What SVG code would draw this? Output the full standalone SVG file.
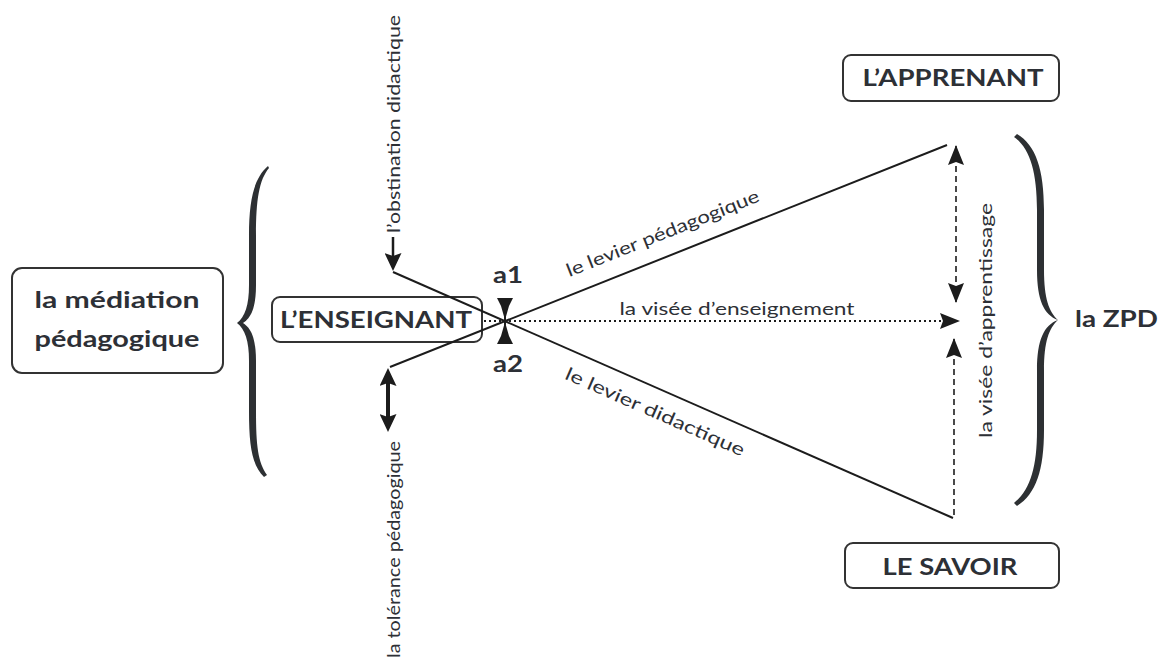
<svg xmlns="http://www.w3.org/2000/svg" width="1161" height="662" viewBox="0 0 1161 662">
<defs>
<style>
.box{fill:#fff;stroke:#333;stroke-width:2}
.t{font-family:Lato,"Open Sans","Liberation Sans",sans-serif;fill:#2d3036}
.b{font-weight:bold}
.ln{stroke:#1c1c1c;stroke-width:2;fill:none}
.dash{stroke:#1c1c1c;stroke-width:1.6;stroke-dasharray:6 4;fill:none}
.dot{stroke:#1c1c1c;stroke-width:2;stroke-dasharray:2 3;fill:none}
.brace{fill:#2d3033}
.hd{fill:#1c1c1c}
</style>
<marker id="ah" viewBox="0 0 20 16" refX="19" refY="8" markerWidth="20" markerHeight="16" markerUnits="userSpaceOnUse" orient="auto-start-reverse">
<path d="M0,0 L20,8 L0,16 L3,8 Z" fill="#1c1c1c"/>
</marker>
<marker id="ahb" viewBox="0 0 18 17" refX="12" refY="8.5" markerWidth="18" markerHeight="17" markerUnits="userSpaceOnUse" orient="auto-start-reverse">
<path d="M0,0 L18,8.5 L0,17 L3,8.5 Z" fill="#1c1c1c"/>
</marker>
</defs>
<rect width="1161" height="662" fill="#fff"/>

<g id="brace-left">
<path class="brace" d="M268,166 C254,178 249,200 249,235 L249,285 C249,305 245,317 237,323 C245,329 249,341 249,361 L249,411 C249,446 252,465 264,477 L267,475 C258,462 256,446 256,411 L256,361 C256,338 251,328 243,323 C251,318 256,308 256,285 L256,235 C256,200 259,180 269,168 Z"/>
</g>
<g id="brace-right">
<path class="brace" d="M1014,137 C1030,148 1037,172 1037,210 L1037,270 C1037,300 1044,315 1058,320 C1044,325 1037,340 1037,370 L1037,430 C1037,468 1030,490 1014,503 L1017,506 C1036,494 1044,470 1044,430 L1044,370 C1044,342 1049,328 1058,320 C1049,312 1044,298 1044,270 L1044,210 C1044,170 1036,145 1017,134 Z"/>
</g>

<g id="node-mediation">
<rect class="box" x="12" y="268" width="211" height="105" rx="10"/>
<text class="t b" x="117" y="308" font-size="23" text-anchor="middle" textLength="165" lengthAdjust="spacingAndGlyphs">la médiation</text>
<text class="t b" x="117" y="347" font-size="23" text-anchor="middle" textLength="165" lengthAdjust="spacingAndGlyphs">pédagogique</text>
</g>

<g id="node-enseignant">
<rect class="box" x="272" y="297" width="210" height="45" rx="8"/>
<text class="t b" x="376" y="328" font-size="22" text-anchor="middle" textLength="192" lengthAdjust="spacingAndGlyphs">L’ENSEIGNANT</text>
</g>

<g id="node-apprenant">
<rect class="box" x="843" y="55" width="216" height="46" rx="8"/>
<text class="t b" x="953" y="86" font-size="22" text-anchor="middle" textLength="181" lengthAdjust="spacingAndGlyphs">L’APPRENANT</text>
</g>

<g id="node-savoir">
<rect class="box" x="845" y="543" width="214" height="45" rx="8"/>
<text class="t b" x="950" y="575" font-size="22" text-anchor="middle" textLength="135" lengthAdjust="spacingAndGlyphs">LE SAVOIR</text>
</g>

<g id="node-zpd">
<text class="t b" x="1075" y="327" font-size="22" textLength="83" lengthAdjust="spacingAndGlyphs">la ZPD</text>
</g>

<g id="connectors">
<line class="ln" x1="393" y1="272" x2="953" y2="518"/>
<line class="ln" x1="390" y1="367" x2="947" y2="145"/>
<line class="ln" x1="393" y1="237" x2="393" y2="265" style="stroke-width:2.5" marker-end="url(#ahb)"/>
<line class="ln" x1="388" y1="374" x2="388" y2="426" style="stroke-width:4" marker-start="url(#ahb)" marker-end="url(#ahb)"/>
<line class="dot" x1="484" y1="321" x2="959" y2="321" marker-end="url(#ah)"/>
<line class="dash" x1="956" y1="146" x2="956" y2="302" marker-start="url(#ah)" marker-end="url(#ah)"/>
<line class="dash" x1="954" y1="339" x2="954" y2="518" marker-start="url(#ah)"/>
<g id="center-marks">
<line class="ln" x1="505" y1="298" x2="505" y2="344"/>
<path class="hd" d="M497,298 L513,298 L509,306 L505,320 L501,306 Z"/>
<path class="hd" d="M497,344 L513,344 L509,336 L505,322 L501,336 Z"/>
</g>
</g>

<g id="labels">
<text class="t b" x="508" y="283" font-size="22" text-anchor="middle" textLength="30" lengthAdjust="spacingAndGlyphs">a1</text>
<text class="t b" x="508" y="372" font-size="22" text-anchor="middle" textLength="30" lengthAdjust="spacingAndGlyphs">a2</text>
<text class="t" x="737" y="315" font-size="17" text-anchor="middle" textLength="235" lengthAdjust="spacingAndGlyphs">la visée d’enseignement</text>
<text class="t" transform="translate(505,321) rotate(-21.7)" x="76" y="-17" font-size="18" textLength="206" lengthAdjust="spacingAndGlyphs">le levier pédagogique</text>
<text class="t" transform="translate(505,321) rotate(23.7)" x="77" y="29" font-size="18" textLength="194" lengthAdjust="spacingAndGlyphs">le levier didactique</text>
<text class="t" transform="translate(400,233) rotate(-90)" x="0" y="0" font-size="17" textLength="218" lengthAdjust="spacingAndGlyphs">l’obstination didactique</text>
<text class="t" transform="translate(400,441) rotate(-90)" x="0" y="0" font-size="17" text-anchor="end" textLength="217" lengthAdjust="spacingAndGlyphs">la tolérance pédagogique</text>
<text class="t" transform="translate(992,438) rotate(-90)" x="0" y="0" font-size="18" textLength="235" lengthAdjust="spacingAndGlyphs">la visée d’apprentissage</text>
</g>
</svg>
